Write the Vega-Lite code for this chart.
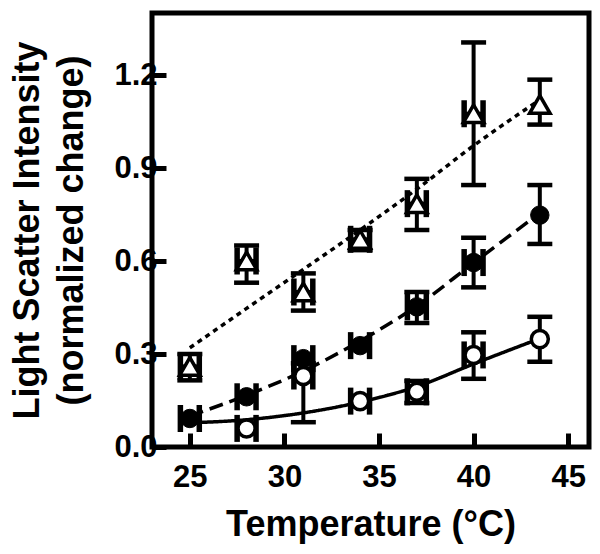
{
  "$schema": "https://vega.github.io/schema/vega-lite/v6.json",
  "width": 437,
  "height": 434,
  "autosize": {"type": "none"},
  "padding": {"left": 152, "top": 13, "right": 11, "bottom": 107},
  "background": "white",
  "config": {
    "view": {"stroke": "black", "strokeWidth": 5},
    "font": "Liberation Sans",
    "axis": {
      "domain": false, "grid": false,
      "tickSize": -14, "tickWidth": 5, "tickColor": "black",
      "labelFont": "Liberation Sans", "labelFontWeight": "bold", "labelFontSize": 31, "labelColor": "black",
      "titleFont": "Liberation Sans", "titleFontWeight": "bold", "titleFontSize": 36, "titleColor": "black"
    }
  },
  "datasets": {
    "points": [
      {"series": "triangle", "t": 25, "v": 0.26, "vlo": 0.215, "vhi": 0.30, "tlo": 24.5, "thi": 25.5},
      {"series": "triangle", "t": 28, "v": 0.60, "vlo": 0.53, "vhi": 0.65, "tlo": 27.5, "thi": 28.5},
      {"series": "triangle", "t": 31, "v": 0.50, "vlo": 0.44, "vhi": 0.56, "tlo": 30.5, "thi": 31.5},
      {"series": "triangle", "t": 34, "v": 0.67, "vlo": 0.635, "vhi": 0.70, "tlo": 33.5, "thi": 34.5},
      {"series": "triangle", "t": 37, "v": 0.785, "vlo": 0.70, "vhi": 0.865, "tlo": 36.5, "thi": 37.5},
      {"series": "triangle", "t": 40, "v": 1.075, "vlo": 0.845, "vhi": 1.305, "tlo": 39.5, "thi": 40.5},
      {"series": "triangle", "t": 43.5, "v": 1.105, "vlo": 1.04, "vhi": 1.185, "tlo": null, "thi": null},
      {"series": "filled", "t": 25, "v": 0.092, "vlo": null, "vhi": null, "tlo": 24.5, "thi": 25.5},
      {"series": "filled", "t": 28, "v": 0.162, "vlo": null, "vhi": null, "tlo": 27.5, "thi": 28.5},
      {"series": "filled", "t": 31, "v": 0.285, "vlo": null, "vhi": null, "tlo": 30.5, "thi": 31.5},
      {"series": "filled", "t": 34, "v": 0.327, "vlo": null, "vhi": null, "tlo": 33.5, "thi": 34.5},
      {"series": "filled", "t": 37, "v": 0.452, "vlo": 0.40, "vhi": 0.50, "tlo": 36.5, "thi": 37.5},
      {"series": "filled", "t": 40, "v": 0.595, "vlo": 0.515, "vhi": 0.675, "tlo": 39.5, "thi": 40.5},
      {"series": "filled", "t": 43.5, "v": 0.748, "vlo": 0.655, "vhi": 0.845, "tlo": null, "thi": null},
      {"series": "open", "t": 28, "v": 0.06, "vlo": null, "vhi": null, "tlo": 27.5, "thi": 28.5},
      {"series": "open", "t": 31, "v": 0.229, "vlo": 0.08, "vhi": 0.27, "tlo": 30.5, "thi": 31.5},
      {"series": "open", "t": 34, "v": 0.148, "vlo": null, "vhi": null, "tlo": 33.5, "thi": 34.5},
      {"series": "open", "t": 37, "v": 0.178, "vlo": 0.142, "vhi": 0.213, "tlo": 36.5, "thi": 37.5},
      {"series": "open", "t": 40, "v": 0.297, "vlo": 0.22, "vhi": 0.37, "tlo": 39.5, "thi": 40.5},
      {"series": "open", "t": 43.5, "v": 0.348, "vlo": 0.275, "vhi": 0.42, "tlo": null, "thi": null}
    ],
    "curves": [
      {"series": "dotted", "t": 25, "v": 0.32},
      {"series": "dotted", "t": 28, "v": 0.447},
      {"series": "dotted", "t": 31, "v": 0.573},
      {"series": "dotted", "t": 34, "v": 0.70},
      {"series": "dotted", "t": 37, "v": 0.832},
      {"series": "dotted", "t": 40, "v": 0.972},
      {"series": "dotted", "t": 43.5, "v": 1.12},
      {"series": "dashed", "t": 25, "v": 0.10},
      {"series": "dashed", "t": 28, "v": 0.167},
      {"series": "dashed", "t": 31, "v": 0.245},
      {"series": "dashed", "t": 34, "v": 0.342},
      {"series": "dashed", "t": 37, "v": 0.455},
      {"series": "dashed", "t": 40, "v": 0.594},
      {"series": "dashed", "t": 43.5, "v": 0.755},
      {"series": "solid", "t": 25, "v": 0.078},
      {"series": "solid", "t": 28, "v": 0.088},
      {"series": "solid", "t": 31, "v": 0.110},
      {"series": "solid", "t": 34, "v": 0.145},
      {"series": "solid", "t": 37, "v": 0.195},
      {"series": "solid", "t": 40, "v": 0.268},
      {"series": "solid", "t": 43.5, "v": 0.35}
    ]
  },
  "encoding": {
    "x": {
      "field": "t", "type": "quantitative",
      "scale": {"domain": [23, 46.1], "nice": false, "zero": false},
      "axis": {"values": [25, 30, 35, 40, 45], "title": "Temperature (°C)", "labelFontSize": 31, "labelPadding": 29, "titlePadding": 15}
    },
    "y": {
      "field": "v", "type": "quantitative",
      "scale": {"domain": [0, 1.4], "nice": false},
      "axis": {"values": [0, 0.3, 0.6, 0.9, 1.2], "format": ".1f", "title": ["Light Scatter Intensity", "(normalized change)"], "titleLineHeight": 44, "labelFontSize": 31, "labelPadding": 9, "titlePadding": 23}
    }
  },
  "layer": [
    {
      "data": {"name": "curves"},
      "mark": {"type": "line", "interpolate": "monotone", "color": "black", "strokeWidth": 3.5},
      "encoding": {
        "detail": {"field": "series"},
        "strokeDash": {"field": "series", "type": "nominal", "scale": {"domain": ["dotted", "dashed", "solid"], "range": [[5, 4.5], [14, 7], [1, 0]]}, "legend": null}
      }
    },
    {
      "data": {"name": "points"},
      "transform": [{"filter": "datum.vlo != null"}],
      "mark": {"type": "rule", "color": "black", "strokeWidth": 4},
      "encoding": {"y": {"field": "vlo", "type": "quantitative"}, "y2": {"field": "vhi"}}
    },
    {
      "data": {"name": "points"},
      "transform": [{"filter": "datum.vlo != null"}],
      "mark": {"type": "tick", "orient": "horizontal", "color": "black", "size": 25, "thickness": 4.5, "opacity": 1},
      "encoding": {"y": {"field": "vlo", "type": "quantitative"}}
    },
    {
      "data": {"name": "points"},
      "transform": [{"filter": "datum.vhi != null"}],
      "mark": {"type": "tick", "orient": "horizontal", "color": "black", "size": 25, "thickness": 4.5, "opacity": 1},
      "encoding": {"y": {"field": "vhi", "type": "quantitative"}}
    },
    {
      "data": {"name": "points"},
      "transform": [{"filter": "datum.tlo != null"}],
      "mark": {"type": "rule", "color": "black", "strokeWidth": 4},
      "encoding": {"x": {"field": "tlo", "type": "quantitative"}, "x2": {"field": "thi"}}
    },
    {
      "data": {"name": "points"},
      "transform": [{"filter": "datum.tlo != null"}],
      "mark": {"type": "tick", "orient": "vertical", "color": "black", "size": 27, "thickness": 5.5, "opacity": 1},
      "encoding": {"x": {"field": "tlo", "type": "quantitative"}}
    },
    {
      "data": {"name": "points"},
      "transform": [{"filter": "datum.thi != null"}],
      "mark": {"type": "tick", "orient": "vertical", "color": "black", "size": 27, "thickness": 5.5, "opacity": 1},
      "encoding": {"x": {"field": "thi", "type": "quantitative"}}
    },
    {
      "data": {"name": "points"},
      "transform": [{"filter": "datum.series == 'triangle'"}],
      "mark": {"type": "point", "shape": "triangle-up", "filled": true, "fill": "white", "stroke": "black", "strokeWidth": 3.5, "size": 420, "opacity": 1}
    },
    {
      "data": {"name": "points"},
      "transform": [{"filter": "datum.series == 'filled'"}],
      "mark": {"type": "point", "shape": "circle", "filled": true, "fill": "black", "stroke": "black", "strokeWidth": 1, "size": 340, "opacity": 1}
    },
    {
      "data": {"name": "points"},
      "transform": [{"filter": "datum.series == 'open'"}],
      "mark": {"type": "point", "shape": "circle", "filled": true, "fill": "white", "stroke": "black", "strokeWidth": 3.5, "size": 290, "opacity": 1}
    }
  ]
}
